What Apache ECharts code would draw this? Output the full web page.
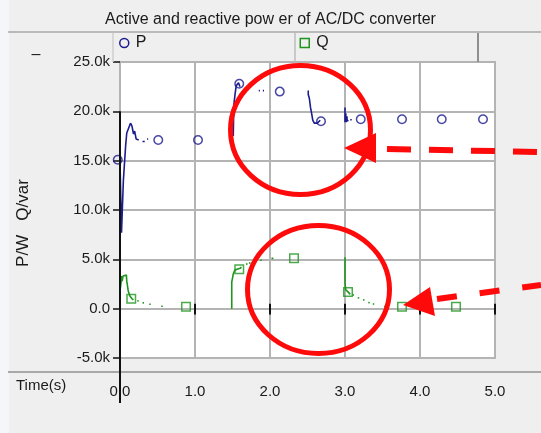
<!DOCTYPE html>
<html>
<head>
<meta charset="utf-8">
<script src="https://cdn.jsdelivr.net/npm/echarts@6/dist/echarts.min.js"></script>
<style>
  html, body { margin: 0; padding: 0; background: #efefef; }
  #chart { width: 541px; height: 433px; }
</style>
</head>
<body>
<div id="chart"></div>
<script>
const TITLE = 'Active and reactive pow er of AC/DC converter';
const X_LABELS = ['0.0', '1.0', '2.0', '3.0', '4.0', '5.0'];
const Y_LABELS = ['-5.0k', '0.0', '5.0k', '10.0k', '15.0k', '20.0k', '25.0k'];
const ZERO_TICKS = [1, 2, 3, 4, 5];

// Active power P (W): visible pieces of the trace, [time s, value]
const P_TRACE = [
  [[0, 4500], [0, 15000], [0.02, 7700], [0.04, 7700], [0.045, 13000], [0.065, 13200], [0.075, 16500],
   [0.09, 17800], [0.11, 18000], [0.14, 18800], [0.16, 18500], [0.18, 17700], [0.195, 18000],
   [0.215, 17200], [0.235, 17400], [0.25, 17100]],
  [[0.30, 16950], [0.33, 16950]],
  [[0.36, 17200], [0.375, 17200]],
  [[1.51, 17500], [1.515, 19500], [1.52, 20800], [1.535, 21800], [1.55, 22600], [1.58, 22900], [1.60, 22500]],
  [[1.68, 22150], [1.71, 22150]],
  [[1.85, 22100], [1.865, 22100]],
  [[1.905, 22100], [1.92, 22100]],
  [[2.51, 22100], [2.51, 21700], [2.525, 21700], [2.525, 21300], [2.54, 21300], [2.54, 20400],
   [2.555, 20400], [2.555, 19800], [2.57, 19800], [2.57, 19100], [2.59, 19100], [2.59, 18800],
   [2.63, 18800], [2.65, 19000], [2.67, 19100]],
  [[3.0, 20400], [3.0, 18900], [3.01, 19800], [3.015, 18900], [3.025, 19500], [3.03, 19000],
   [3.045, 19100], [3.05, 19100]],
  [[3.07, 19150], [3.09, 19150]]
];

// Reactive power Q (var): visible pieces of the trace, [time s, value]
const Q_TRACE = [
  [[0, 0], [0, 1800], [0.02, 1800], [0.025, 3300], [0.03, 2800], [0.04, 3300], [0.06, 3500],
   [0.085, 3400], [0.09, 2800], [0.11, 1800], [0.13, 1300], [0.16, 1000], [0.18, 900]],
  [[0.23, 800], [0.25, 780]],
  [[0.30, 600], [0.32, 590]],
  [[0.39, 450], [0.41, 440]],
  [[0.55, 250], [0.57, 250]],
  [[1.49, 0], [1.49, 2700], [1.505, 2700], [1.51, 3500], [1.52, 3500], [1.53, 3900], [1.56, 4000],
   [1.60, 4100], [1.62, 4200]],
  [[1.68, 4500], [1.70, 4550]],
  [[1.72, 4600], [1.74, 4650]],
  [[1.87, 4900], [1.89, 4900]],
  [[2.02, 5100], [2.045, 5100]],
  [[3.0, 5200], [3.0, 2600], [3.01, 2600], [3.01, 1900], [3.04, 1700], [3.06, 1500], [3.07, 1450]],
  [[3.10, 1400], [3.12, 1380]],
  [[3.17, 1100], [3.19, 1080]],
  [[3.24, 900], [3.26, 880]],
  [[3.31, 620], [3.33, 600]],
  [[3.37, 480], [3.39, 470]],
  [[3.52, 220], [3.54, 220]]
];

// Sample markers drawn along each trace
const P_MARK_T = [-0.03, 0.51, 1.04, 1.59, 2.13, 2.68, 3.21, 3.76, 4.29, 4.84];
const P_MARK_V = [15100, 17100, 17100, 22800, 22000, 19000, 19200, 19200, 19200, 19200];
const Q_MARK_T = [0.15, 0.88, 1.59, 2.32, 3.04, 3.76, 4.48];
const Q_MARK_V = [1000, 200, 4000, 5100, 1700, 200, 200];

const NAVY = '#1c1c8e';
const GREEN = '#1e961e';
const RED = '#ff0a0a';
const GRID = '#b4b4b4';
const FONT = '"Liberation Sans", Arial, sans-serif';

function joinPieces(pieces) {
  const out = [];
  pieces.forEach((piece, i) => {
    if (i) out.push([piece[0][0], '-']);
    piece.forEach(pt => out.push(pt));
  });
  return out;
}
const zip = (ts, vs) => ts.map((t, i) => [t, vs[i]]);

const chart = echarts.init(document.getElementById('chart'), null, { renderer: 'canvas' });

chart.setOption({
  backgroundColor: '#efefef',
  animation: false,
  title: {
    text: TITLE, left: 'center', top: 12, padding: 0,
    textStyle: { fontFamily: FONT, fontSize: 16, fontWeight: 'normal', color: '#1a1a1a' }
  },
  legend: [
    {
      data: [{ name: 'P', icon: 'circle', itemStyle: { color: 'rgba(0,0,0,0)', borderColor: NAVY, borderWidth: 1.5 } }],
      left: 119, top: 35, padding: 0, itemWidth: 9, itemHeight: 9, selectedMode: false,
      textStyle: { fontFamily: FONT, fontSize: 16, color: '#1a1a1a', padding: [0, 0, 0, 2] }
    },
    {
      data: [{ name: 'Q', icon: 'rect', itemStyle: { color: 'rgba(0,0,0,0)', borderColor: GREEN, borderWidth: 1.5 } }],
      left: 299.5, top: 35, padding: 0, itemWidth: 9, itemHeight: 9, selectedMode: false,
      textStyle: { fontFamily: FONT, fontSize: 16, color: '#1a1a1a', padding: [0, 0, 0, 2] }
    }
  ],
  grid: {
    left: 120, top: 62, width: 375, height: 296,
    show: true, backgroundColor: '#ffffff', borderColor: GRID, borderWidth: 2
  },
  xAxis: {
    type: 'value', min: 0, max: 5, interval: 1, offset: 14,
    axisLine: { show: false },
    axisTick: { show: true, length: 6, lineStyle: { color: '#111', width: 1.5 } },
    axisLabel: {
      margin: 12, fontFamily: FONT, fontSize: 15, color: '#1a1a1a',
      formatter: (v) => X_LABELS[Math.round(v)]
    },
    splitLine: { show: true, lineStyle: { color: GRID, width: 2 } }
  },
  yAxis: {
    type: 'value', min: -5000, max: 25000, interval: 5000,
    axisLine: { show: false },
    axisTick: { show: true, length: 7, lineStyle: { color: '#111', width: 1.5 } },
    axisLabel: {
      margin: 10, fontFamily: FONT, fontSize: 15, color: '#1a1a1a',
      formatter: (v) => Y_LABELS[Math.round((v + 5000) / 5000)]
    },
    splitLine: { show: true, lineStyle: { color: GRID, width: 2 } }
  },
  series: [
    {
      name: 'P', type: 'line', data: joinPieces(P_TRACE), showSymbol: false,
      connectNulls: false, lineStyle: { color: NAVY, width: 1.6 }, itemStyle: { color: NAVY }, z: 3
    },
    {
      name: 'Q', type: 'line', data: joinPieces(Q_TRACE), showSymbol: false,
      connectNulls: false, lineStyle: { color: GREEN, width: 1.6 }, itemStyle: { color: GREEN }, z: 3
    },
    {
      name: 'P', type: 'scatter', data: zip(P_MARK_T, P_MARK_V), symbol: 'circle', symbolSize: 8.5,
      clip: false, itemStyle: { color: 'rgba(0,0,0,0)', borderColor: NAVY, borderWidth: 1.5 }, z: 4
    },
    {
      name: 'Q', type: 'scatter', data: zip(Q_MARK_T, Q_MARK_V), symbol: 'rect', symbolSize: 8.5,
      clip: false, itemStyle: { color: 'rgba(0,0,0,0)', borderColor: GREEN, borderWidth: 1.5 }, z: 4
    }
  ]
});

// Frame decorations and annotations, placed from the chart's own scales
const px = (t, v) => chart.convertToPixel({ gridIndex: 0 }, [t, v]);
const origin = px(0, 0);
const axisTop = px(0, 20000);
const zeroTicks = ZERO_TICKS.map(t => {
  const p = px(t, 0);
  return { type: 'line', z: 20, shape: { x1: p[0], y1: p[1] - 5, x2: p[0], y2: p[1] + 5 }, style: { stroke: '#111', lineWidth: 2 } };
});

chart.setOption({
  graphic: [
    { type: 'rect', z: -1, shape: { x: 0, y: 0, width: 9, height: 433 }, style: { fill: '#f4f6f9' } },
    { type: 'line', z: 20, shape: { x1: 8, y1: 32, x2: 541, y2: 32 }, style: { stroke: '#a8a8a8', lineWidth: 1.5 } },
    { type: 'line', z: 20, shape: { x1: 113, y1: 33, x2: 113, y2: 62 }, style: { stroke: '#cfcfcf', lineWidth: 1.5 } },
    { type: 'line', z: 20, shape: { x1: 295, y1: 33, x2: 295, y2: 62 }, style: { stroke: '#bdbdbd', lineWidth: 1.5 } },
    { type: 'line', z: 20, shape: { x1: 478, y1: 33, x2: 478, y2: 62 }, style: { stroke: '#8f8f8f', lineWidth: 2 } },
    { type: 'line', z: 20, shape: { x1: 8, y1: 372, x2: 541, y2: 372 }, style: { stroke: '#a8a8a8', lineWidth: 2 } },
    { type: 'line', z: 21, shape: { x1: origin[0], y1: axisTop[1], x2: origin[0], y2: 403 }, style: { stroke: '#111', lineWidth: 2 } },
    ...zeroTicks,
    { type: 'text', z: 20, style: { x: 36, y: 55, text: '–', font: '16px ' + FONT, fill: '#1a1a1a', align: 'center', verticalAlign: 'middle' } },
    { type: 'text', z: 20, style: { x: 16, y: 386, text: 'Time(s)', font: '15px ' + FONT, fill: '#1a1a1a', align: 'left', verticalAlign: 'middle' } },
    { type: 'text', z: 20, x: 23, y: 223, rotation: Math.PI / 2,
      style: { x: 0, y: 0, text: 'P/W   Q/var', font: '17px ' + FONT, fill: '#1a1a1a', align: 'center', verticalAlign: 'middle' } },
    // red call-outs
    { type: 'ellipse', z: 100, shape: { cx: 300.5, cy: 130, rx: 70, ry: 64.5 }, style: { fill: 'none', stroke: RED, lineWidth: 5 } },
    { type: 'polygon', z: 101, shape: { points: [[344, 148], [376, 133], [376, 163]] }, style: { fill: RED } },
    { type: 'line', z: 101, shape: { x1: 387, y1: 149, x2: 541, y2: 152 }, style: { stroke: RED, lineWidth: 6, lineDash: [24, 18] } },
    { type: 'ellipse', z: 100, shape: { cx: 318.5, cy: 289.5, rx: 71, ry: 64 }, style: { fill: 'none', stroke: RED, lineWidth: 5 } },
    { type: 'polygon', z: 101, shape: { points: [[403, 305], [430, 287], [435, 316]] }, style: { fill: RED } },
    { type: 'line', z: 101, shape: { x1: 437, y1: 299, x2: 541, y2: 285 }, style: { stroke: RED, lineWidth: 6, lineDash: [20, 23] } }
  ]
});
</script>
</body>
</html>
